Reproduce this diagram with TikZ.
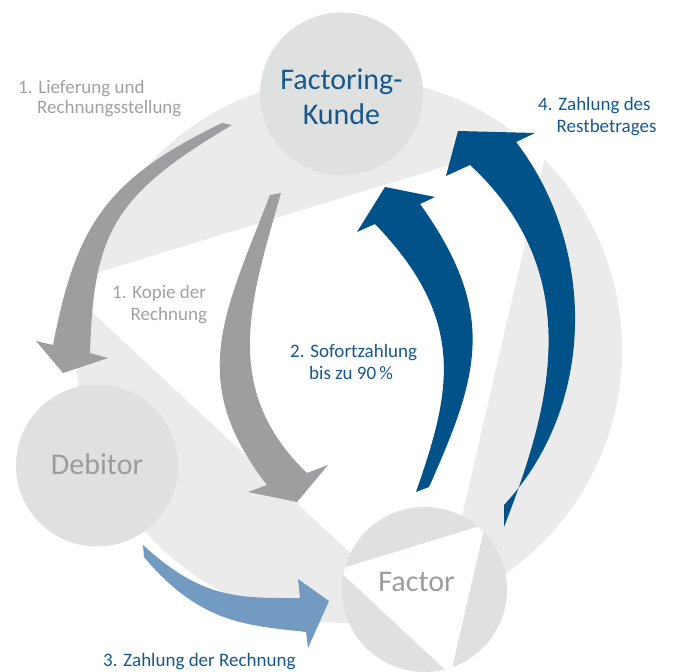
\documentclass[tikz,border=0pt]{standalone}
\usepackage{fontspec}
\setmainfont{Carlito}
\definecolor{ringgray}{RGB}{235,235,235}
\definecolor{nodegray}{RGB}{223,224,224}
\definecolor{arrowgray}{RGB}{157,158,160}
\definecolor{darkblue}{RGB}{0,82,137}
\definecolor{lightblue}{RGB}{115,154,192}
\definecolor{textblue}{RGB}{22,88,142}
\definecolor{textgray}{RGB}{160,161,162}
\definecolor{nodetextgray}{RGB}{155,156,157}
\tikzset{
  nodecircle/.style={circle, fill=nodegray, inner sep=0pt, minimum size=#1},
  bigtext/.style={anchor=base, inner sep=0pt, font=\fontsize{30}{35}\selectfont},
  labeltext/.style={anchor=base west, inner sep=0pt, font=\fontsize{19}{21}\selectfont},
}
\begin{document}
\begin{tikzpicture}[x=1pt,y=-1pt]
\useasboundingbox (0,0) rectangle (676,671);
% big ring: circle minus inscribed triangle
\fill[ringgray] (349,350) circle[radius=273];
\fill[white] (550.2,134.3) -- (61.6,283.6) -- (435.2,632.1) -- cycle;
% node circles
\node[nodecircle=163pt] (kunde) at (341.5,94) {};
\node[nodecircle=162pt] (debitor) at (97,465.5) {};
\node[nodecircle=165pt] (factor) at (424.5,589.5) {};
\begin{scope}
  \clip (424.5,589.5) circle[radius=82.5];
  \fill[white] (485.2,524.4) -- (337.8,569.5) -- (450.5,674.6) -- cycle;
\end{scope}
% arrow 1: Lieferung
\fill[arrowgray] (222,123) .. controls (104.5,179.8) and (75.9,226.8) .. (53,345)
  -- (36,341) -- (63,373) -- (108,358) -- (90,353)
  .. controls (93.6,232.2) and (113.7,195.1) .. (232,125) -- cycle;
% arrow 2: Kopie
\fill[arrowgray] (270,195) .. controls (224.7,312.8) and (185.6,380.5) .. (267,485)
  -- (248,492) -- (297,502) -- (328,465) -- (307,473)
  .. controls (218.7,388.4) and (251.9,296.2) .. (281,193) -- cycle;
% arrow 3: Zahlung der Rechnung
\fill[lightblue] (143,545) .. controls (202.6,599.7) and (239.1,598) .. (300,598)
  -- (298,579) -- (329,601) -- (308,648) -- (306,632)
  .. controls (249,625.3) and (201,624.9) .. (144,557) -- cycle;
% arrow 4: Sofortzahlung
\fill[darkblue] (429,487) .. controls (477.9,376.9) and (499.1,314.1) .. (420,204)
  -- (435,197) -- (385,187) -- (357,232) -- (375,224)
  .. controls (469.2,321.2) and (449.8,394.8) .. (416,492) -- cycle;
% arrow 5: Restbetrag
\fill[darkblue] (504,505) .. controls (598.7,403) and (594.7,244) .. (516,142)
  -- (535,133) -- (458,131) -- (446,176) -- (470,165)
  .. controls (590.7,276.6) and (547.4,415.3) .. (504,527) -- cycle;
% node texts
\node[bigtext, text=textblue] (kundeA) at (341.5,90) {Factoring-};
\node[bigtext, text=textblue] (kundeB) at (341.5,125) {Kunde};
\node[bigtext, text=nodetextgray] (debitorT) at (97,474) {Debitor};
\node[bigtext, text=nodetextgray] (factorT) at (416.5,591.5) {Factor};
% labels
\node[labeltext, text=textgray] (l1a) at (18,93.5) {1. Lieferung und};
\node[labeltext, text=textgray] (l1b) at (37,113.5) {Rechnungsstellung};
\node[labeltext, text=textgray] (l2a) at (112,298) {1. Kopie der};
\node[labeltext, text=textgray] (l2b) at (130.5,320) {Rechnung};
\node[labeltext, text=textblue] (l3a) at (290,357) {2. Sofortzahlung};
\node[labeltext, text=textblue] (l3b) at (309,379) {bis zu 90\,\%};
\node[labeltext, text=textblue] (l4) at (103,666) {3. Zahlung der Rechnung};
\node[labeltext, text=textblue] (l5a) at (538,111) {4. Zahlung des};
\node[labeltext, text=textblue] (l5b) at (556.5,132) {Restbetrages};
\end{tikzpicture}
\end{document}
